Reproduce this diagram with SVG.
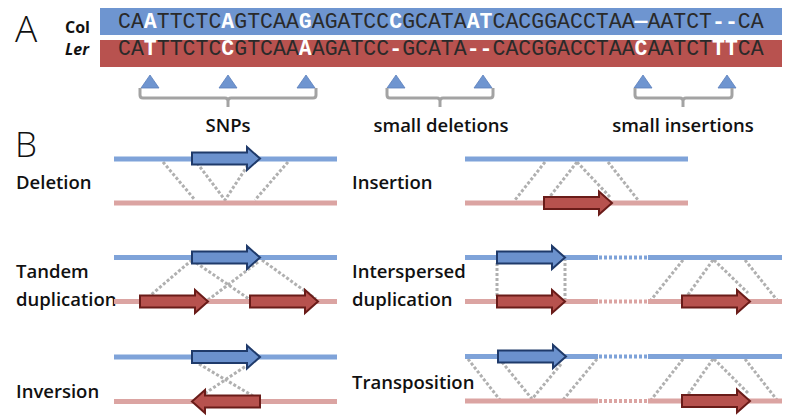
<svg xmlns="http://www.w3.org/2000/svg" xmlns:xlink="http://www.w3.org/1999/xlink" width="795" height="420" viewBox="0 0 795 420">
<style>
.lbl{font-family:"Open Sans","Liberation Sans",sans-serif;font-size:18.5px;font-weight:600;fill:#111}
.big{font-family:"Open Sans","Liberation Sans",sans-serif;font-weight:300;fill:#111}
.sq{font-family:"Liberation Mono","DejaVu Sans Mono",monospace;font-size:21.53px;fill:#2a2a2a}
.hl{font-weight:bold;fill:#fff}
.nm{font-family:"Open Sans","Liberation Sans",sans-serif;font-weight:bold;font-size:16px;fill:#111}
.bl{stroke:#7fa3d9;stroke-width:5;fill:none}
.pk{stroke:#dba4a2;stroke-width:5;fill:none}
.bld{stroke:#7fa3d9;stroke-width:4;stroke-dasharray:3 2;fill:none}
.pkd{stroke:#dba4a2;stroke-width:4;stroke-dasharray:3 2;fill:none}
.ab{fill:#6b91cd;stroke:#1f3a6a;stroke-width:2}
.ar{fill:#b7524e;stroke:#6a1c19;stroke-width:2}
.dot{stroke:#b0b0b0;stroke-width:3;stroke-dasharray:3 2;fill:none}
.brk{stroke:#a3a3a3;stroke-width:3;fill:none;stroke-linejoin:round}
.tri{fill:#6f95d0;stroke:#5a7fbb;stroke-width:0.8}
</style>
<defs>
<path id="arr" d="M0,-6 H55 V-11.5 L68,0 L55,11.5 V6 H0 Z"/>
<path id="tri" d="M-9,13 L9,13 L0,0 Z"/>
</defs>

<!-- Panel A -->
<g id="panelA">
<text class="big" x="15" y="42" font-size="37">A</text>
<g id="col">
<rect x="100" y="8" width="682" height="27" fill="#6e95d0"/>
<text class="nm" x="65" y="33">Col</text>
<text class="sq" x="118" y="28.3">CA<tspan class="hl">A</tspan>TTCTC<tspan class="hl">A</tspan>GTCAA<tspan class="hl">G</tspan>AGATCC<tspan class="hl">C</tspan>GCATA<tspan class="hl">AT</tspan>CACGGACCTAA<tspan class="hl">—</tspan>AATCT<tspan class="hl">--</tspan>CA</text>
</g>
<g id="ler">
<rect x="100" y="40" width="682" height="27" fill="#b8524f"/>
<text class="nm" x="65" y="55" font-style="italic">Ler</text>
<text class="sq" x="118" y="55">CA<tspan class="hl">T</tspan>TTCTC<tspan class="hl">C</tspan>GTCAA<tspan class="hl">A</tspan>AGATCC<tspan class="hl">-</tspan>GCATA<tspan class="hl">--</tspan>CACGGACCTAA<tspan class="hl">C</tspan>AATCT<tspan class="hl">TT</tspan>CA</text>
</g>
<g id="snps">
<use xlink:href="#tri" class="tri" x="150" y="75"/>
<use xlink:href="#tri" class="tri" x="228" y="75"/>
<use xlink:href="#tri" class="tri" x="306" y="75"/>
<path class="brk" d="M140,88 V95 Q140,98 143,98 H225 Q228,98 228,101 V107 M228,101 Q228,98 231,98 H313 Q316,98 316,95 V88"/>
<text class="lbl" x="228" y="132" text-anchor="middle">SNPs</text>
</g>
<g id="smalldel">
<use xlink:href="#tri" class="tri" x="396" y="75"/>
<use xlink:href="#tri" class="tri" x="483" y="75"/>
<path class="brk" d="M387,88 V95 Q387,98 390,98 H437 Q440,98 440,101 V107 M440,101 Q440,98 443,98 H490 Q493,98 493,95 V88"/>
<text class="lbl" x="441" y="132" text-anchor="middle">small deletions</text>
</g>
<g id="smallins">
<use xlink:href="#tri" class="tri" x="643" y="75"/>
<use xlink:href="#tri" class="tri" x="727" y="75"/>
<path class="brk" d="M635,88 V95 Q635,98 638,98 H680 Q683,98 683,101 V107 M683,101 Q683,98 686,98 H729 Q732,98 732,95 V88"/>
<text class="lbl" x="683" y="132" text-anchor="middle">small insertions</text>
</g>
</g>

<!-- Panel B -->
<text class="big" x="15" y="157" font-size="35">B</text>

<g id="connectors">
<path class="dot" d="M163,162 L195,200 M197,163 L225,200 L248,165 M288,162 L255,200"/>
<path class="dot" d="M545,162 L515,200 M577,162 L548,199 M577,162 L610,197 M608,162 L638,200"/>
<path class="dot" d="M192,260 L145,300 M192,260 L249,299 M258,262 L208,300 M262,260 L316,299"/>
<path class="dot" d="M497,263 V296 M565,258 V300 M683,260 L651,300 M713,260 L687,296 M714,260 L748,293 M745,260 L777,300"/>
<path class="dot" d="M199,364 L253,396 M249,364 L201,396"/>
<path class="dot" d="M468,359 L500,400 M502,362 L532,399 L562,363 M597,359 L563,400 M683,359 L651,400 M713,359 L687,396 M714,359 L748,393 M745,359 L777,400"/>
</g>

<g id="deletion">
<text class="lbl" x="16" y="189">Deletion</text>
<line class="bl" x1="114" y1="159" x2="337" y2="159"/>
<line class="pk" x1="114" y1="203" x2="337" y2="203"/>
<use xlink:href="#arr" class="ab" transform="translate(192,158.5)"/>
</g>

<g id="insertion">
<text class="lbl" x="352" y="189">Insertion</text>
<line class="bl" x1="465" y1="159" x2="688" y2="159"/>
<line class="pk" x1="465" y1="203" x2="688" y2="203"/>
<use xlink:href="#arr" class="ar" transform="translate(544,203)"/>
</g>

<g id="tandem">
<text class="lbl" x="16" y="278">Tandem</text>
<text class="lbl" x="16" y="306">duplication</text>
<line class="bl" x1="114" y1="257.5" x2="337" y2="257.5"/>
<line class="pk" x1="114" y1="301.5" x2="337" y2="301.5"/>
<use xlink:href="#arr" class="ab" transform="translate(192,257.5)"/>
<use xlink:href="#arr" class="ar" transform="translate(140,301.5)"/>
<use xlink:href="#arr" class="ar" transform="translate(250,301.5)"/>
</g>

<g id="interspersed">
<text class="lbl" x="352" y="278">Interspersed</text>
<text class="lbl" x="352" y="306">duplication</text>
<line class="bl" x1="465" y1="257.5" x2="598" y2="257.5"/>
<line class="bld" x1="599" y1="257.5" x2="647" y2="257.5"/>
<line class="bl" x1="648" y1="257.5" x2="782" y2="257.5"/>
<line class="pk" x1="465" y1="301.5" x2="598" y2="301.5"/>
<line class="pkd" x1="599" y1="301.5" x2="647" y2="301.5"/>
<line class="pk" x1="648" y1="301.5" x2="782" y2="301.5"/>
<use xlink:href="#arr" class="ab" transform="translate(497,257.5)"/>
<use xlink:href="#arr" class="ar" transform="translate(497,301.5)"/>
<use xlink:href="#arr" class="ar" transform="translate(682,301.5)"/>
</g>

<g id="inversion">
<text class="lbl" x="16" y="398">Inversion</text>
<line class="bl" x1="114" y1="357" x2="337" y2="357"/>
<line class="pk" x1="114" y1="401.5" x2="337" y2="401.5"/>
<use xlink:href="#arr" class="ab" transform="translate(192,357)"/>
<use xlink:href="#arr" class="ar" transform="translate(260,401.5) scale(-1,1)"/>
</g>

<g id="transposition">
<text class="lbl" x="352" y="389">Transposition</text>
<line class="bl" x1="465" y1="356.5" x2="598" y2="356.5"/>
<line class="bld" x1="599" y1="356.5" x2="647" y2="356.5"/>
<line class="bl" x1="648" y1="356.5" x2="782" y2="356.5"/>
<line class="pk" x1="465" y1="401" x2="598" y2="401"/>
<line class="pkd" x1="599" y1="401" x2="647" y2="401"/>
<line class="pk" x1="648" y1="401" x2="782" y2="401"/>
<use xlink:href="#arr" class="ab" transform="translate(498,356.5)"/>
<use xlink:href="#arr" class="ar" transform="translate(682,401)"/>
</g>
</svg>
